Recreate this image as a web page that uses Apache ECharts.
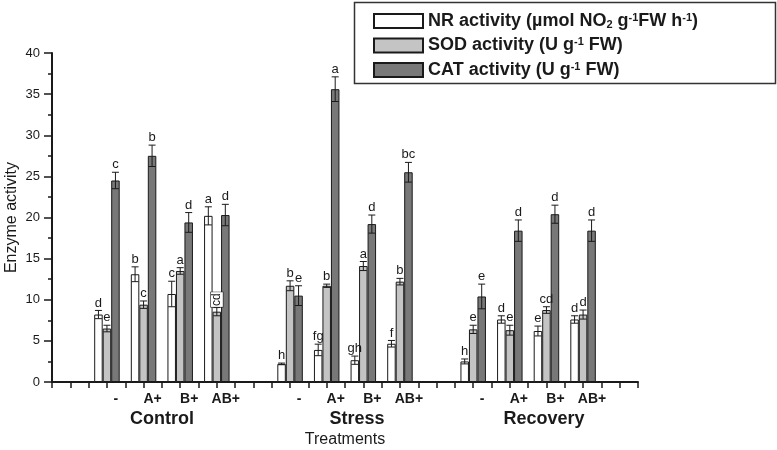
<!DOCTYPE html>
<html>
<head>
<meta charset="utf-8">
<title>Enzyme activity</title>
<script src="https://cdn.jsdelivr.net/npm/echarts@6/dist/echarts.min.js"></script>
<style>
  html, body { margin: 0; padding: 0; background: #fff; }
  #chart { width: 777px; height: 450px; }
</style>
</head>
<body>
<div id="chart"></div>
<script>
// x slots: empty slot before/between/after the three treatment groups
const categories = ['', '-', 'A+', 'B+', 'AB+', '', '-', 'A+', 'B+', 'AB+', '', '-', 'A+', 'B+', 'AB+', '']
const groupNames = ['Control', 'Stress', 'Recovery']

// order: Control -, A+, B+, AB+ | Stress ... | Recovery ...
const nrValues = [8.2, 13.1, 10.7, 20.2, 2.2, 3.9, 2.65, 4.65, 2.5, 7.6, 6.2, 7.6]
const nrErrors = [0.5, 0.9, 1.55, 1.1, 0.1, 0.7, 0.5, 0.4, 0.3, 0.45, 0.6, 0.45]
const nrLetters = ['d', 'b', 'c', 'a', 'h', 'fg', 'gh', 'f', 'h', 'd', 'e', 'd']

const sodValues = [6.5, 9.4, 13.5, 8.55, 11.7, 11.7, 14.1, 12.2, 6.4, 6.3, 8.75, 8.2]
const sodErrors = [0.4, 0.45, 0.4, 0.5, 0.6, 0.2, 0.55, 0.4, 0.5, 0.6, 0.4, 0.55]
const sodLetters = ['e', 'c', 'a', 'cd', 'b', 'b', 'a', 'b', 'e', 'e', 'cd', 'd']

const catValues = [24.5, 27.5, 19.4, 20.3, 10.5, 35.6, 19.2, 25.5, 10.4, 18.4, 20.4, 18.4]
const catErrors = [1.0, 1.3, 1.2, 1.3, 1.2, 1.5, 1.1, 1.2, 1.5, 1.3, 1.1, 1.3]
const catLetters = ['c', 'b', 'd', 'd', 'e', 'a', 'd', 'bc', 'e', 'd', 'd', 'd']

const FONT = "'Liberation Sans', Arial, sans-serif"
const INK = '#1a1a1a'
const BAR_W = 8.5

// index in the 12 values -> slot on the category axis
function slotOf(i) {
  return 1 + Math.floor(i / 4) * 5 + (i % 4)
}

function toSlots(values) {
  const out = categories.map(() => null)
  values.forEach((v, i) => { out[slotOf(i)] = v })
  return out
}

function barSeries(name, values, color) {
  return {
    name: name,
    type: 'bar',
    barWidth: BAR_W,
    barGap: '0%',
    data: toSlots(values),
    itemStyle: { color: color, borderColor: INK, borderWidth: 1 },
    emphasis: { disabled: true },
    z: 2
  }
}

// error bar "I" + significance letter, shifted to the k-th bar of the group
function errorSeries(values, errors, letters, k) {
  return {
    type: 'custom',
    data: values.map((v, i) => [slotOf(i), v, errors[i]]),
    encode: { x: 0, y: 1 },
    z: 5,
    silent: true,
    renderItem: (params, api) => {
      const xi = api.value(0)
      const v = api.value(1)
      const e = api.value(2)
      const top = api.coord([xi, v + e])
      const bot = api.coord([xi, v - e])
      const x = top[0] + (k - 1) * BAR_W
      const hw = 3.5
      const line = { stroke: INK, lineWidth: 1 }
      const letter = letters[params.dataIndex]
      const children = [
        { type: 'line', shape: { x1: x, y1: top[1], x2: x, y2: bot[1] }, style: line },
        { type: 'line', shape: { x1: x - hw, y1: top[1], x2: x + hw, y2: top[1] }, style: line },
        { type: 'line', shape: { x1: x - hw, y1: bot[1], x2: x + hw, y2: bot[1] }, style: line }
      ]
      // Control AB+ SOD letter sits rotated in a white box (squeezed between tall bars)
      if (k === 1 && params.dataIndex === 3) {
        children.push({
          type: 'text',
          x: x,
          y: top[1] - 8,
          rotation: Math.PI / 2,
          style: {
            text: letter, font: '12px ' + FONT, fill: INK,
            align: 'center', verticalAlign: 'middle',
            backgroundColor: '#fff', borderColor: INK, borderWidth: 0.6,
            padding: [0, 1, 0, 1]
          }
        })
      } else {
        children.push({
          type: 'text',
          x: x,
          y: top[1] - 1,
          style: {
            text: letter, font: '13px ' + FONT, fill: INK,
            align: 'center', verticalAlign: 'bottom'
          }
        })
      }
      return { type: 'group', children: children }
    }
  }
}

const legendRich = {
  b: { fontSize: 18, fontWeight: 'bold', fontFamily: FONT, color: INK },
  sup: { fontSize: 11, fontWeight: 'bold', fontFamily: FONT, color: INK, verticalAlign: 'top', lineHeight: 18 },
  sub: { fontSize: 11, fontWeight: 'bold', fontFamily: FONT, color: INK, verticalAlign: 'bottom', lineHeight: 18 }
}
const legendText = {
  NR: '{b|NR activity (µmol NO}{sub|2}{b| g}{sup|-1}{b|FW h}{sup|-1}{b|)}',
  SOD: '{b|SOD activity (U g}{sup|-1}{b| FW)}',
  CAT: '{b|CAT activity (U g}{sup|-1}{b| FW)}'
}

const chart = echarts.init(document.getElementById('chart'))

const gridBox = { left: 52, top: 53, right: 139, bottom: 68, containLabel: false, outerBoundsMode: 'none' }

const option = {
  backgroundColor: '#fff',
  animation: false,
  textStyle: { fontFamily: FONT },
  grid: [
    Object.assign({}, gridBox),
    Object.assign({}, gridBox)
  ],
  legend: {
    orient: 'vertical',
    left: 368,
    top: 7,
    itemWidth: 49,
    itemHeight: 14,
    itemGap: 6.5,
    icon: 'rect',
    data: ['NR', 'SOD', 'CAT'],
    formatter: (name) => legendText[name],
    textStyle: { rich: legendRich },
    selectedMode: false
  },
  xAxis: [
    {
      type: 'category',
      gridIndex: 0,
      data: categories,
      name: 'Treatments',
      nameLocation: 'middle',
      nameGap: 50,
      nameTextStyle: { fontSize: 16, color: INK, fontFamily: FONT },
      axisLine: { lineStyle: { color: INK, width: 2 } },
      axisTick: { show: true, length: 6, lineStyle: { color: INK, width: 1.5 } },
      axisLabel: {
        interval: 0,
        margin: 10,
        fontSize: 14,
        fontWeight: 'bold',
        color: INK,
        padding: [0, 0, 0, 18]
      },
      splitLine: { show: false }
    },
    {
      type: 'category',
      gridIndex: 1,
      data: categories,
      axisLine: { show: false },
      axisTick: { show: true, alignWithLabel: true, length: 6, lineStyle: { color: INK, width: 1.5 } },
      axisLabel: { show: false },
      splitLine: { show: false }
    }
  ],
  yAxis: [
    {
      type: 'value',
      gridIndex: 0,
      min: 0,
      max: 40,
      interval: 5,
      name: 'Enzyme activity',
      nameLocation: 'middle',
      nameGap: 32,
      nameMoveOverlap: false,
      nameTextStyle: { fontSize: 16, color: INK, fontFamily: FONT },
      axisLine: { show: true, lineStyle: { color: INK, width: 2 } },
      axisTick: { show: true, length: 8, lineStyle: { color: INK, width: 1.5 } },
      minorTick: { show: true, splitNumber: 2, length: 4, lineStyle: { color: INK, width: 1.5 } },
      axisLabel: { fontSize: 13, color: INK, margin: 12 },
      splitLine: { show: false }
    },
    {
      type: 'value',
      gridIndex: 1,
      min: 0,
      max: 40,
      show: false,
      splitLine: { show: false }
    }
  ],
  series: [
    barSeries('NR', nrValues, '#ffffff'),
    barSeries('SOD', sodValues, '#c4c4c4'),
    barSeries('CAT', catValues, '#787878'),
    errorSeries(nrValues, nrErrors, nrLetters, 0),
    errorSeries(sodValues, sodErrors, sodLetters, 1),
    errorSeries(catValues, catErrors, catLetters, 2)
  ],
  graphic: [
    {
      type: 'rect',
      shape: { x: 354.5, y: 2.5, width: 421, height: 81 },
      style: { fill: 'none', stroke: '#333', lineWidth: 1.5 },
      z: 10
    }
  ].concat(groupNames.map((g, j) => ({
    type: 'text',
    x: [162, 357, 544][j],
    y: 419,
    style: {
      text: g, font: 'bold 18px ' + FONT, fill: INK,
      align: 'center', verticalAlign: 'middle'
    }
  })))
}

chart.setOption(option)
</script>
</body>
</html>
